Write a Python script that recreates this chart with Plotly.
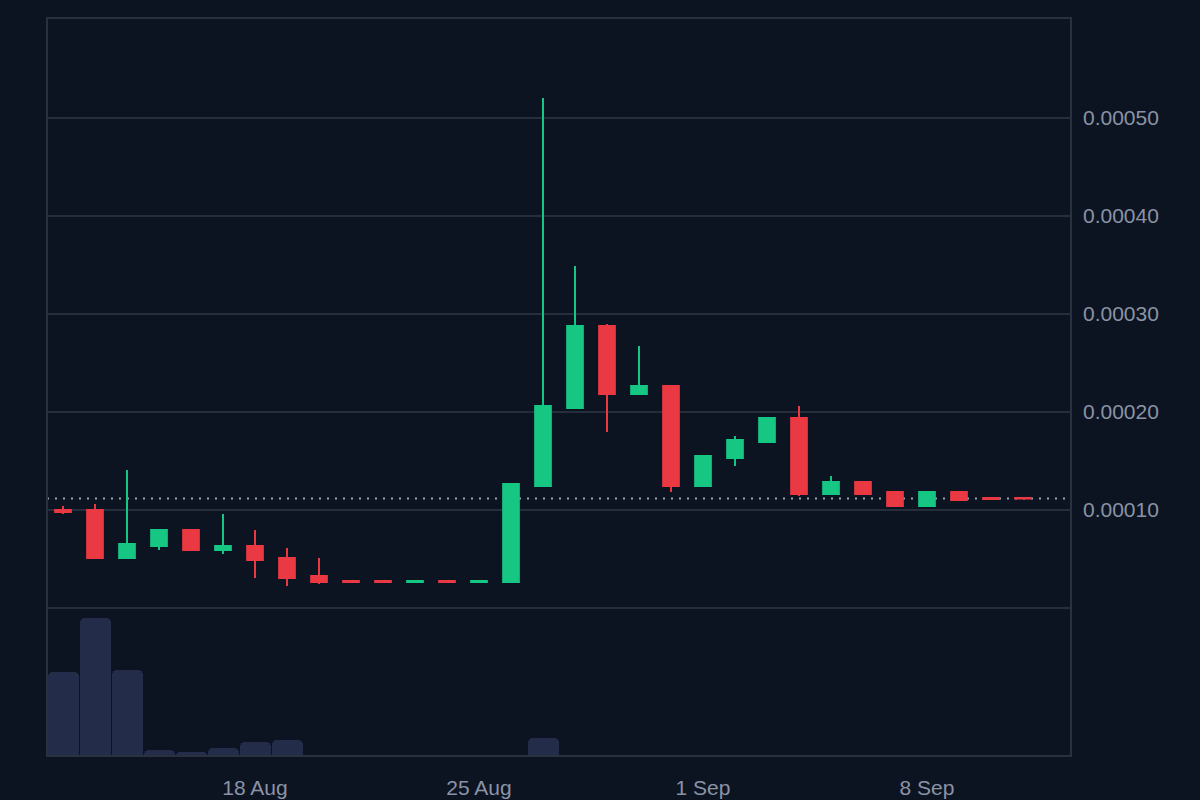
import plotly.graph_objects as go
import pandas as pd

# ---- data ----
dates = pd.date_range("2024-08-12", "2024-09-11", freq="D")
opens = [1.000, 1.000, 0.510, 0.633, 0.796, 0.592, 0.633, 0.510, 0.327,
         0.275, 0.275, 0.265, 0.275, 0.265, 0.265,
         1.245, 2.041, 2.878, 2.184, 2.265, 1.245, 1.531, 1.694, 1.939,
         1.163, 1.286, 1.184, 1.041, 1.184, 1.122, 1.122]
highs = [1.040, 1.061, 1.408, 0.796, 0.796, 0.959, 0.796, 0.612, 0.510,
         0.275, 0.275, 0.275, 0.275, 0.275, 1.265,
         5.204, 3.490, 2.898, 2.673, 2.265, 1.551, 1.755, 1.939, 2.061,
         1.347, 1.286, 1.184, 1.184, 1.184, 1.122, 1.122]
lows = [0.960, 0.510, 0.510, 0.592, 0.592, 0.551, 0.306, 0.224, 0.245,
        0.265, 0.265, 0.265, 0.265, 0.265, 0.265,
        1.245, 2.041, 1.796, 2.184, 1.184, 1.245, 1.449, 1.694, 1.143,
        1.163, 1.163, 1.041, 1.041, 1.102, 1.112, 1.112]
closes = [0.980, 0.510, 0.653, 0.796, 0.592, 0.633, 0.490, 0.306, 0.265,
          0.265, 0.265, 0.275, 0.265, 0.275, 1.265,
          2.061, 2.878, 2.184, 2.265, 1.245, 1.551, 1.714, 1.939, 1.163,
          1.286, 1.163, 1.041, 1.184, 1.102, 1.112, 1.117]
scale = 1e-4
opens = [v * scale for v in opens]
highs = [v * scale for v in highs]
lows = [v * scale for v in lows]
closes = [v * scale for v in closes]
volumes = [84, 138, 86, 6, 4, 8, 14, 16, 0, 0, 0, 0, 0, 0, 0,
           18, 0, 0, 0, 0, 0, 0, 0, 0, 0, 0, 0, 0, 0, 0, 0]
price_ticks = [0.0001, 0.0002, 0.0003, 0.0004, 0.0005]
price_tick_text = ["0.00010", "0.00020", "0.00030", "0.00040", "0.00050"]
date_ticks = ["2024-08-18", "2024-08-25", "2024-09-01", "2024-09-08"]
date_tick_text = ["18 Aug", "25 Aug", "1 Sep", "8 Sep"]

BG = "#0d1421"
GRID = "#262d3b"
BORDER = "#2a303d"
TEXT = "#8a93a6"
GREEN = "#16c784"
RED = "#ea3943"
VOL = "#232c48"

fig = go.Figure()
fig.add_trace(go.Bar(
    x=dates, y=volumes, marker=dict(color=VOL, line=dict(width=0)),
    width=31 * 3600 * 1000 * 24 / 32, xaxis="x", yaxis="y2",
    hoverinfo="skip", showlegend=False,
))
fig.add_trace(go.Candlestick(
    x=dates, open=opens, high=highs, low=lows, close=closes,
    increasing=dict(line=dict(color=GREEN, width=2), fillcolor=GREEN),
    decreasing=dict(line=dict(color=RED, width=2), fillcolor=RED),
    whiskerwidth=0, xaxis="x", yaxis="y", showlegend=False,
))

vol_max = max(volumes)
last_price = closes[-1]
fig.update_layout(
    width=1200, height=800,
    paper_bgcolor=BG, plot_bgcolor=BG,
    margin=dict(l=47, r=129, t=18, b=44),
    font=dict(family="Liberation Sans, Arial, sans-serif", size=21, color=TEXT),
    barcornerradius=5,
    bargap=0,
    xaxis=dict(
        anchor="y2", range=["2024-08-11 12:00", "2024-09-12 12:00"],
        tickvals=date_ticks, ticktext=date_tick_text,
        showgrid=False, zeroline=False, showline=False, automargin=False,
        rangeslider=dict(visible=False), ticks="", ticklabelstandoff=17,
    ),
    yaxis=dict(
        domain=[148 / 738, 1], side="right", anchor="x", automargin=False,
        range=[0, 0.000602], tickvals=price_ticks, ticktext=price_tick_text,
        gridcolor=GRID, gridwidth=2, zeroline=True, zerolinecolor=GRID,
        zerolinewidth=2, showline=False, ticks="", ticklabelstandoff=11,
    ),
    yaxis2=dict(
        domain=[0, 148 / 738], side="right", anchor="x", automargin=False,
        range=[0, vol_max * 148 / 138], showticklabels=False,
        showgrid=False, zeroline=False, showline=False,
    ),
    shapes=[
        dict(type="line", xref="paper", yref="y", x0=0, x1=1,
             y0=last_price, y1=last_price,
             line=dict(color="#9aa1ad", width=2, dash="2px,6px"), layer="below"),
        dict(type="rect", xref="paper", yref="paper", x0=0, x1=1, y0=0, y1=1,
             line=dict(color=BORDER, width=2), layer="above"),
    ],
)

fig.write_html("out.html")
